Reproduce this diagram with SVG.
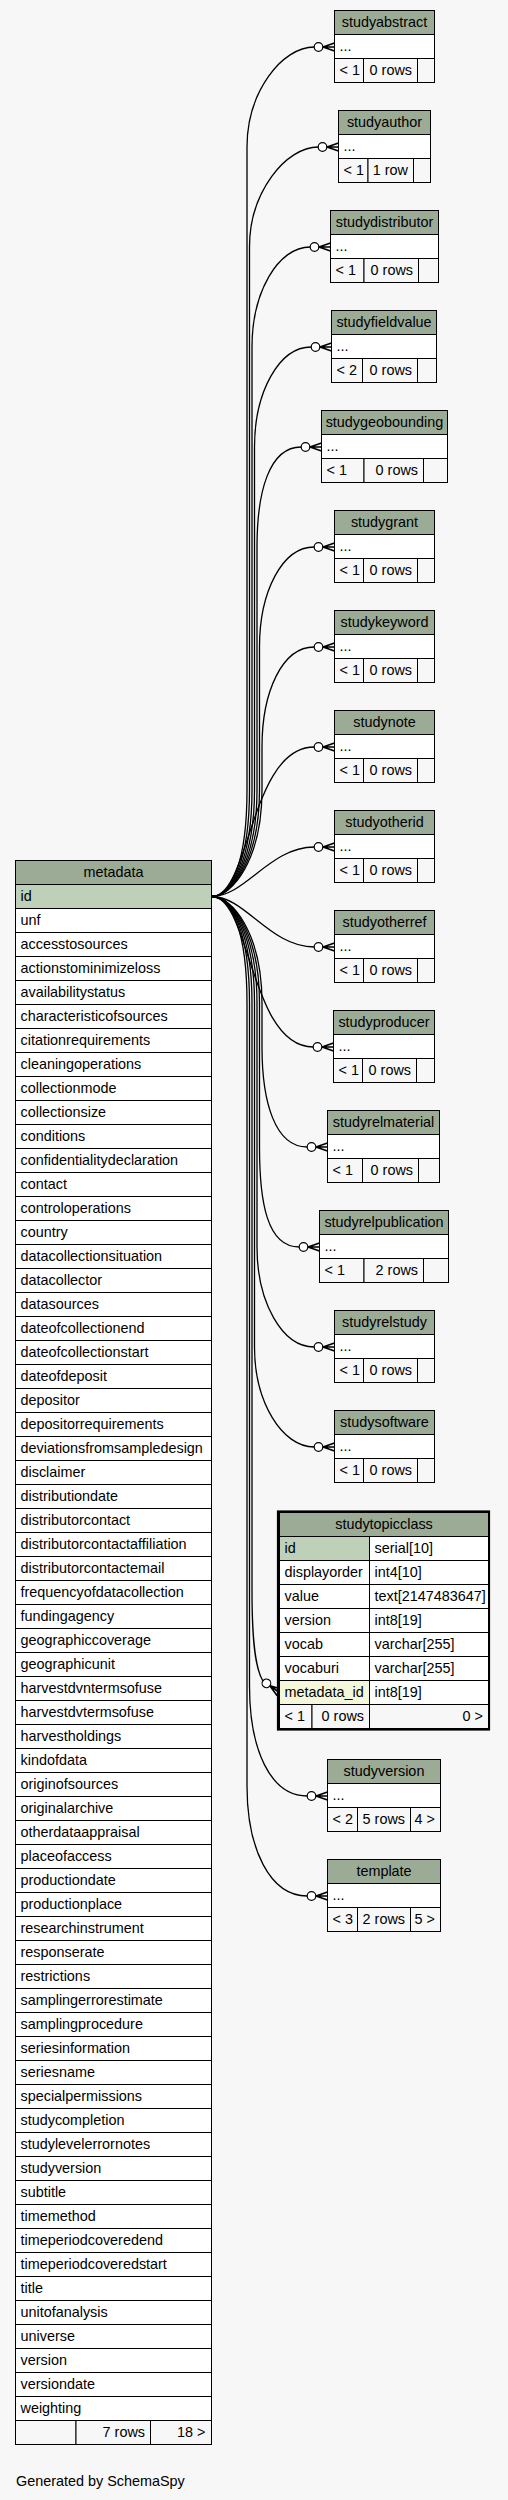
<svg xmlns="http://www.w3.org/2000/svg" xmlns:xlink="http://www.w3.org/1999/xlink" width="508" height="2500" viewBox="0 0 508 2500">
<style>
.h{fill:#9bab96;stroke:#000;stroke-width:1}
.c{fill:#fff;stroke:#000;stroke-width:1}
.pk{fill:#bed1b8;stroke:#000;stroke-width:1}
.fk{fill:#f4f7da;stroke:#000;stroke-width:1}
.f{fill:#f7f7f7;stroke:#000;stroke-width:1}
.ln{fill:none;stroke:#000;stroke-width:1}
text{font-family:"Liberation Sans",Arial,Helvetica,sans-serif;font-size:14.4px;fill:#000}
.m{text-anchor:middle}
.e{text-anchor:end}
.edge{fill:none;stroke:#000;stroke-width:1.3}
.cf circle{fill:#fff;stroke:#000;stroke-width:1.2}
.cf path{fill:none;stroke:#000;stroke-width:1.7}
</style>
<defs>
<g id="cf" class="cf"><path d="M-11.5 0L0 -4M-11.5 0L0 0M-11.5 0L0 4"/><circle cx="-16" cy="0" r="4.3"/></g>
</defs>
<rect x="0" y="0" width="508" height="2500" fill="#f7f7f7"/>
<g id="connectors">
<path class="edge" d="M212 896.5C232 896.5 247 860 247 790L247 147C247 92 282 47 314.2 47"/>
<path class="edge" d="M212 896.5C232 896.5 249.5 860 249.5 790L249.5 247C249.5 192 286 147 318.2 147"/>
<path class="edge" d="M212 896.5C232 896.5 252 860 252 790L252 347C252 292 278 247 310.2 247"/>
<path class="edge" d="M212 896.5C232 896.5 254.5 860 254.5 790L254.5 447C254.5 392 279 347 311.2 347"/>
<path class="edge" d="M212 896.5C232 896.5 257 860 257 790L257 547C257 492 269 447 301.2 447"/>
<path class="edge" d="M212 896.5C232 896.5 259.5 860 259.5 790L259.5 647C259.5 592 282 547 314.2 547"/>
<path class="edge" d="M212 896.5C232 896.5 262 860 262 790L262 747C262 692 282 647 314.2 647"/>
<path class="edge" d="M212 896.5C250 896.5 250 747 314.2 747"/>
<path class="edge" d="M212 896.5C245 896.5 270 847 314.2 847"/>
<path class="edge" d="M212 896.5C245 896.5 270 947 314.2 947"/>
<path class="edge" d="M212 896.5C250 896.5 250 1047 313.2 1047"/>
<path class="edge" d="M212 896.5C232 896.5 262 933 262 1003L262 1047C262 1102 275 1147 307.2 1147"/>
<path class="edge" d="M212 896.5C232 896.5 259.5 933 259.5 1003L259.5 1147C259.5 1202 267 1247 299.2 1247"/>
<path class="edge" d="M212 896.5C232 896.5 257 933 257 1003L257 1247C257 1302 282 1347 314.2 1347"/>
<path class="edge" d="M212 896.5C232 896.5 254.5 933 254.5 1003L254.5 1347C254.5 1402 282 1447 314.2 1447"/>
<path class="edge" d="M212 896.5C232 896.5 252 933 252 1003L252 1590C252 1640 255 1668 262.9 1680.8"/>
<path class="edge" d="M212 896.5C232 896.5 249.5 933 249.5 1003L249.5 1686C249.5 1749 270 1796 307.2 1796"/>
<path class="edge" d="M212 896.5C232 896.5 247 933 247 1003L247 1786C247 1849 270 1896 307.2 1896"/>
<use xlink:href="#cf" href="#cf" transform="translate(334.5,47)"/>
<use xlink:href="#cf" href="#cf" transform="translate(338.5,147)"/>
<use xlink:href="#cf" href="#cf" transform="translate(330.5,247)"/>
<use xlink:href="#cf" href="#cf" transform="translate(331.5,347)"/>
<use xlink:href="#cf" href="#cf" transform="translate(321.5,447)"/>
<use xlink:href="#cf" href="#cf" transform="translate(334.5,547)"/>
<use xlink:href="#cf" href="#cf" transform="translate(334.5,647)"/>
<use xlink:href="#cf" href="#cf" transform="translate(334.5,747)"/>
<use xlink:href="#cf" href="#cf" transform="translate(334.5,847)"/>
<use xlink:href="#cf" href="#cf" transform="translate(334.5,947)"/>
<use xlink:href="#cf" href="#cf" transform="translate(333.5,1047)"/>
<use xlink:href="#cf" href="#cf" transform="translate(327.5,1147)"/>
<use xlink:href="#cf" href="#cf" transform="translate(319.5,1247)"/>
<use xlink:href="#cf" href="#cf" transform="translate(334.5,1347)"/>
<use xlink:href="#cf" href="#cf" transform="translate(334.5,1447)"/>
<use xlink:href="#cf" href="#cf" transform="translate(279.5,1692.5) rotate(35)"/>
<use xlink:href="#cf" href="#cf" transform="translate(327.5,1796)"/>
<use xlink:href="#cf" href="#cf" transform="translate(327.5,1896)"/>
</g>
<g id="studyabstract">
<rect class="h" x="334.5" y="10.5" width="100" height="24"/><rect class="c" x="334.5" y="34.5" width="100" height="24"/>
<rect class="f" x="334.5" y="58.5" width="29" height="24"/><rect class="f" x="363.5" y="58.5" width="54" height="24"/><rect class="f" x="417.5" y="58.5" width="17" height="24"/>
<text class="m" x="384.5" y="27">studyabstract</text><text x="339.5" y="50.5">...</text><text x="339.5" y="75">&lt; 1</text><text class="e" x="412" y="75">0 rows</text>
</g>
<g id="studyauthor">
<rect class="h" x="338.5" y="110.5" width="92" height="24"/><rect class="c" x="338.5" y="134.5" width="92" height="24"/>
<rect class="f" x="338.5" y="158.5" width="29.5" height="24"/><rect class="f" x="368" y="158.5" width="45.5" height="24"/><rect class="f" x="413.5" y="158.5" width="17" height="24"/>
<text class="m" x="384.5" y="127">studyauthor</text><text x="343.5" y="150.5">...</text><text x="343.5" y="175">&lt; 1</text><text class="e" x="408" y="175">1 row</text>
</g>
<g id="studydistributor">
<rect class="h" x="330.5" y="210.5" width="108" height="24"/><rect class="c" x="330.5" y="234.5" width="108" height="24"/>
<rect class="f" x="330.5" y="258.5" width="33.5" height="24"/><rect class="f" x="364" y="258.5" width="54.5" height="24"/><rect class="f" x="418.5" y="258.5" width="20" height="24"/>
<text class="m" x="384.5" y="227">studydistributor</text><text x="335.5" y="250.5">...</text><text x="335.5" y="275">&lt; 1</text><text class="e" x="413" y="275">0 rows</text>
</g>
<g id="studyfieldvalue">
<rect class="h" x="331.5" y="310.5" width="105" height="24"/><rect class="c" x="331.5" y="334.5" width="105" height="24"/>
<rect class="f" x="331.5" y="358.5" width="31" height="24"/><rect class="f" x="362.5" y="358.5" width="55" height="24"/><rect class="f" x="417.5" y="358.5" width="19" height="24"/>
<text class="m" x="384" y="327">studyfieldvalue</text><text x="336.5" y="350.5">...</text><text x="336.5" y="375">&lt; 2</text><text class="e" x="412" y="375">0 rows</text>
</g>
<g id="studygeobounding">
<rect class="h" x="321.5" y="410.5" width="126" height="24"/><rect class="c" x="321.5" y="434.5" width="126" height="24"/>
<rect class="f" x="321.5" y="458.5" width="42.5" height="24"/><rect class="f" x="364" y="458.5" width="59.5" height="24"/><rect class="f" x="423.5" y="458.5" width="24" height="24"/>
<text class="m" x="384.5" y="427">studygeobounding</text><text x="326.5" y="450.5">...</text><text x="326.5" y="475">&lt; 1</text><text class="e" x="418" y="475">0 rows</text>
</g>
<g id="studygrant">
<rect class="h" x="334.5" y="510.5" width="100" height="24"/><rect class="c" x="334.5" y="534.5" width="100" height="24"/>
<rect class="f" x="334.5" y="558.5" width="29" height="24"/><rect class="f" x="363.5" y="558.5" width="54" height="24"/><rect class="f" x="417.5" y="558.5" width="17" height="24"/>
<text class="m" x="384.5" y="527">studygrant</text><text x="339.5" y="550.5">...</text><text x="339.5" y="575">&lt; 1</text><text class="e" x="412" y="575">0 rows</text>
</g>
<g id="studykeyword">
<rect class="h" x="334.5" y="610.5" width="100" height="24"/><rect class="c" x="334.5" y="634.5" width="100" height="24"/>
<rect class="f" x="334.5" y="658.5" width="29" height="24"/><rect class="f" x="363.5" y="658.5" width="54" height="24"/><rect class="f" x="417.5" y="658.5" width="17" height="24"/>
<text class="m" x="384.5" y="627">studykeyword</text><text x="339.5" y="650.5">...</text><text x="339.5" y="675">&lt; 1</text><text class="e" x="412" y="675">0 rows</text>
</g>
<g id="studynote">
<rect class="h" x="334.5" y="710.5" width="100" height="24"/><rect class="c" x="334.5" y="734.5" width="100" height="24"/>
<rect class="f" x="334.5" y="758.5" width="29" height="24"/><rect class="f" x="363.5" y="758.5" width="54" height="24"/><rect class="f" x="417.5" y="758.5" width="17" height="24"/>
<text class="m" x="384.5" y="727">studynote</text><text x="339.5" y="750.5">...</text><text x="339.5" y="775">&lt; 1</text><text class="e" x="412" y="775">0 rows</text>
</g>
<g id="studyotherid">
<rect class="h" x="334.5" y="810.5" width="100" height="24"/><rect class="c" x="334.5" y="834.5" width="100" height="24"/>
<rect class="f" x="334.5" y="858.5" width="29" height="24"/><rect class="f" x="363.5" y="858.5" width="54" height="24"/><rect class="f" x="417.5" y="858.5" width="17" height="24"/>
<text class="m" x="384.5" y="827">studyotherid</text><text x="339.5" y="850.5">...</text><text x="339.5" y="875">&lt; 1</text><text class="e" x="412" y="875">0 rows</text>
</g>
<g id="studyotherref">
<rect class="h" x="334.5" y="910.5" width="100" height="24"/><rect class="c" x="334.5" y="934.5" width="100" height="24"/>
<rect class="f" x="334.5" y="958.5" width="29" height="24"/><rect class="f" x="363.5" y="958.5" width="54" height="24"/><rect class="f" x="417.5" y="958.5" width="17" height="24"/>
<text class="m" x="384.5" y="927">studyotherref</text><text x="339.5" y="950.5">...</text><text x="339.5" y="975">&lt; 1</text><text class="e" x="412" y="975">0 rows</text>
</g>
<g id="studyproducer">
<rect class="h" x="333.5" y="1010.5" width="101" height="24"/><rect class="c" x="333.5" y="1034.5" width="101" height="24"/>
<rect class="f" x="333.5" y="1058.5" width="29" height="24"/><rect class="f" x="362.5" y="1058.5" width="54" height="24"/><rect class="f" x="416.5" y="1058.5" width="18" height="24"/>
<text class="m" x="384" y="1027">studyproducer</text><text x="338.5" y="1050.5">...</text><text x="338.5" y="1075">&lt; 1</text><text class="e" x="411" y="1075">0 rows</text>
</g>
<g id="studyrelmaterial">
<rect class="h" x="327.5" y="1110.5" width="112" height="24"/><rect class="c" x="327.5" y="1134.5" width="112" height="24"/>
<rect class="f" x="327.5" y="1158.5" width="35" height="24"/><rect class="f" x="362.5" y="1158.5" width="56" height="24"/><rect class="f" x="418.5" y="1158.5" width="21" height="24"/>
<text class="m" x="383.5" y="1127">studyrelmaterial</text><text x="332.5" y="1150.5">...</text><text x="332.5" y="1175">&lt; 1</text><text class="e" x="413" y="1175">0 rows</text>
</g>
<g id="studyrelpublication">
<rect class="h" x="319.5" y="1210.5" width="129" height="24"/><rect class="c" x="319.5" y="1234.5" width="129" height="24"/>
<rect class="f" x="319.5" y="1258.5" width="44.5" height="24"/><rect class="f" x="364" y="1258.5" width="59.5" height="24"/><rect class="f" x="423.5" y="1258.5" width="25" height="24"/>
<text class="m" x="384" y="1227">studyrelpublication</text><text x="324.5" y="1250.5">...</text><text x="324.5" y="1275">&lt; 1</text><text class="e" x="418" y="1275">2 rows</text>
</g>
<g id="studyrelstudy">
<rect class="h" x="334.5" y="1310.5" width="100" height="24"/><rect class="c" x="334.5" y="1334.5" width="100" height="24"/>
<rect class="f" x="334.5" y="1358.5" width="29" height="24"/><rect class="f" x="363.5" y="1358.5" width="54" height="24"/><rect class="f" x="417.5" y="1358.5" width="17" height="24"/>
<text class="m" x="384.5" y="1327">studyrelstudy</text><text x="339.5" y="1350.5">...</text><text x="339.5" y="1375">&lt; 1</text><text class="e" x="412" y="1375">0 rows</text>
</g>
<g id="studysoftware">
<rect class="h" x="334.5" y="1410.5" width="100" height="24"/><rect class="c" x="334.5" y="1434.5" width="100" height="24"/>
<rect class="f" x="334.5" y="1458.5" width="29" height="24"/><rect class="f" x="363.5" y="1458.5" width="54" height="24"/><rect class="f" x="417.5" y="1458.5" width="17" height="24"/>
<text class="m" x="384.5" y="1427">studysoftware</text><text x="339.5" y="1450.5">...</text><text x="339.5" y="1475">&lt; 1</text><text class="e" x="412" y="1475">0 rows</text>
</g>
<g id="studytopicclass">
<rect x="278" y="1511.5" width="211" height="218" fill="#fff" stroke="#000" stroke-width="2.2"/>
<rect class="h" x="279.5" y="1512.5" width="209" height="24"/>
<rect class="pk" x="279.5" y="1536.5" width="90" height="24"/><rect class="c" x="369.5" y="1536.5" width="119" height="24"/>
<rect class="c" x="279.5" y="1560.5" width="90" height="24"/><rect class="c" x="369.5" y="1560.5" width="119" height="24"/>
<rect class="c" x="279.5" y="1584.5" width="90" height="24"/><rect class="c" x="369.5" y="1584.5" width="119" height="24"/>
<rect class="c" x="279.5" y="1608.5" width="90" height="24"/><rect class="c" x="369.5" y="1608.5" width="119" height="24"/>
<rect class="c" x="279.5" y="1632.5" width="90" height="24"/><rect class="c" x="369.5" y="1632.5" width="119" height="24"/>
<rect class="c" x="279.5" y="1656.5" width="90" height="24"/><rect class="c" x="369.5" y="1656.5" width="119" height="24"/>
<rect class="fk" x="279.5" y="1680.5" width="90" height="24"/><rect class="c" x="369.5" y="1680.5" width="119" height="24"/>
<rect class="f" x="279.5" y="1704.5" width="32.5" height="24"/><rect class="f" x="312" y="1704.5" width="57.5" height="24"/><rect class="f" x="369.5" y="1704.5" width="119" height="24"/>
<text class="m" x="384" y="1529">studytopicclass</text>
<text x="284.5" y="1553">id</text><text x="374.5" y="1553">serial[10]</text>
<text x="284.5" y="1577">displayorder</text><text x="374.5" y="1577">int4[10]</text>
<text x="284.5" y="1601">value</text><text x="374.5" y="1601">text[2147483647]</text>
<text x="284.5" y="1625">version</text><text x="374.5" y="1625">int8[19]</text>
<text x="284.5" y="1649">vocab</text><text x="374.5" y="1649">varchar[255]</text>
<text x="284.5" y="1673">vocaburi</text><text x="374.5" y="1673">varchar[255]</text>
<text x="284.5" y="1697">metadata_id</text><text x="374.5" y="1697">int8[19]</text>
<text x="284.5" y="1721">&lt; 1</text><text class="e" x="364" y="1721">0 rows</text><text class="e" x="483" y="1721">0 &gt;</text>
</g>
<g id="studyversion">
<rect class="h" x="327.5" y="1759.5" width="113" height="24"/><rect class="c" x="327.5" y="1783.5" width="113" height="24"/>
<rect class="f" x="327.5" y="1807.5" width="30" height="24"/><rect class="f" x="357.5" y="1807.5" width="53" height="24"/><rect class="f" x="410.5" y="1807.5" width="30" height="24"/>
<text class="m" x="384" y="1776">studyversion</text><text x="332.5" y="1799.5">...</text><text x="332.5" y="1824">&lt; 2</text><text class="e" x="405" y="1824">5 rows</text><text class="e" x="435" y="1824">4 &gt;</text>
</g>
<g id="template">
<rect class="h" x="327.5" y="1859.5" width="113" height="24"/><rect class="c" x="327.5" y="1883.5" width="113" height="24"/>
<rect class="f" x="327.5" y="1907.5" width="30" height="24"/><rect class="f" x="357.5" y="1907.5" width="53" height="24"/><rect class="f" x="410.5" y="1907.5" width="30" height="24"/>
<text class="m" x="384" y="1876">template</text><text x="332.5" y="1899.5">...</text><text x="332.5" y="1924">&lt; 3</text><text class="e" x="405" y="1924">2 rows</text><text class="e" x="435" y="1924">5 &gt;</text>
</g>
<g id="metadata">
<rect class="h" x="15.5" y="860.5" width="196" height="24"/>
<rect class="c" x="15.5" y="884.5" width="196" height="1536"/>
<rect class="pk" x="15.5" y="884.5" width="196" height="24"/>
<path class="ln" d="M15.5 908.5h196M15.5 932.5h196M15.5 956.5h196M15.5 980.5h196M15.5 1004.5h196M15.5 1028.5h196M15.5 1052.5h196M15.5 1076.5h196M15.5 1100.5h196M15.5 1124.5h196M15.5 1148.5h196M15.5 1172.5h196M15.5 1196.5h196M15.5 1220.5h196M15.5 1244.5h196M15.5 1268.5h196M15.5 1292.5h196M15.5 1316.5h196M15.5 1340.5h196M15.5 1364.5h196M15.5 1388.5h196M15.5 1412.5h196M15.5 1436.5h196M15.5 1460.5h196M15.5 1484.5h196M15.5 1508.5h196M15.5 1532.5h196M15.5 1556.5h196M15.5 1580.5h196M15.5 1604.5h196M15.5 1628.5h196M15.5 1652.5h196M15.5 1676.5h196M15.5 1700.5h196M15.5 1724.5h196M15.5 1748.5h196M15.5 1772.5h196M15.5 1796.5h196M15.5 1820.5h196M15.5 1844.5h196M15.5 1868.5h196M15.5 1892.5h196M15.5 1916.5h196M15.5 1940.5h196M15.5 1964.5h196M15.5 1988.5h196M15.5 2012.5h196M15.5 2036.5h196M15.5 2060.5h196M15.5 2084.5h196M15.5 2108.5h196M15.5 2132.5h196M15.5 2156.5h196M15.5 2180.5h196M15.5 2204.5h196M15.5 2228.5h196M15.5 2252.5h196M15.5 2276.5h196M15.5 2300.5h196M15.5 2324.5h196M15.5 2348.5h196M15.5 2372.5h196M15.5 2396.5h196"/>
<rect class="f" x="15.5" y="2420.5" width="60.5" height="24"/><rect class="f" x="76" y="2420.5" width="74.5" height="24"/><rect class="f" x="150.5" y="2420.5" width="61" height="24"/>
<text class="m" x="113.5" y="877">metadata</text>
<text x="20.5" y="901">id</text>
<text x="20.5" y="925">unf</text>
<text x="20.5" y="949">accesstosources</text>
<text x="20.5" y="973">actionstominimizeloss</text>
<text x="20.5" y="997">availabilitystatus</text>
<text x="20.5" y="1021">characteristicofsources</text>
<text x="20.5" y="1045">citationrequirements</text>
<text x="20.5" y="1069">cleaningoperations</text>
<text x="20.5" y="1093">collectionmode</text>
<text x="20.5" y="1117">collectionsize</text>
<text x="20.5" y="1141">conditions</text>
<text x="20.5" y="1165">confidentialitydeclaration</text>
<text x="20.5" y="1189">contact</text>
<text x="20.5" y="1213">controloperations</text>
<text x="20.5" y="1237">country</text>
<text x="20.5" y="1261">datacollectionsituation</text>
<text x="20.5" y="1285">datacollector</text>
<text x="20.5" y="1309">datasources</text>
<text x="20.5" y="1333">dateofcollectionend</text>
<text x="20.5" y="1357">dateofcollectionstart</text>
<text x="20.5" y="1381">dateofdeposit</text>
<text x="20.5" y="1405">depositor</text>
<text x="20.5" y="1429">depositorrequirements</text>
<text x="20.5" y="1453">deviationsfromsampledesign</text>
<text x="20.5" y="1477">disclaimer</text>
<text x="20.5" y="1501">distributiondate</text>
<text x="20.5" y="1525">distributorcontact</text>
<text x="20.5" y="1549">distributorcontactaffiliation</text>
<text x="20.5" y="1573">distributorcontactemail</text>
<text x="20.5" y="1597">frequencyofdatacollection</text>
<text x="20.5" y="1621">fundingagency</text>
<text x="20.5" y="1645">geographiccoverage</text>
<text x="20.5" y="1669">geographicunit</text>
<text x="20.5" y="1693">harvestdvntermsofuse</text>
<text x="20.5" y="1717">harvestdvtermsofuse</text>
<text x="20.5" y="1741">harvestholdings</text>
<text x="20.5" y="1765">kindofdata</text>
<text x="20.5" y="1789">originofsources</text>
<text x="20.5" y="1813">originalarchive</text>
<text x="20.5" y="1837">otherdataappraisal</text>
<text x="20.5" y="1861">placeofaccess</text>
<text x="20.5" y="1885">productiondate</text>
<text x="20.5" y="1909">productionplace</text>
<text x="20.5" y="1933">researchinstrument</text>
<text x="20.5" y="1957">responserate</text>
<text x="20.5" y="1981">restrictions</text>
<text x="20.5" y="2005">samplingerrorestimate</text>
<text x="20.5" y="2029">samplingprocedure</text>
<text x="20.5" y="2053">seriesinformation</text>
<text x="20.5" y="2077">seriesname</text>
<text x="20.5" y="2101">specialpermissions</text>
<text x="20.5" y="2125">studycompletion</text>
<text x="20.5" y="2149">studylevelerrornotes</text>
<text x="20.5" y="2173">studyversion</text>
<text x="20.5" y="2197">subtitle</text>
<text x="20.5" y="2221">timemethod</text>
<text x="20.5" y="2245">timeperiodcoveredend</text>
<text x="20.5" y="2269">timeperiodcoveredstart</text>
<text x="20.5" y="2293">title</text>
<text x="20.5" y="2317">unitofanalysis</text>
<text x="20.5" y="2341">universe</text>
<text x="20.5" y="2365">version</text>
<text x="20.5" y="2389">versiondate</text>
<text x="20.5" y="2413">weighting</text>
<text class="e" x="145" y="2437">7 rows</text><text class="e" x="205.5" y="2437">18 &gt;</text>
</g>
<text x="16" y="2485.5">Generated by SchemaSpy</text>
</svg>
